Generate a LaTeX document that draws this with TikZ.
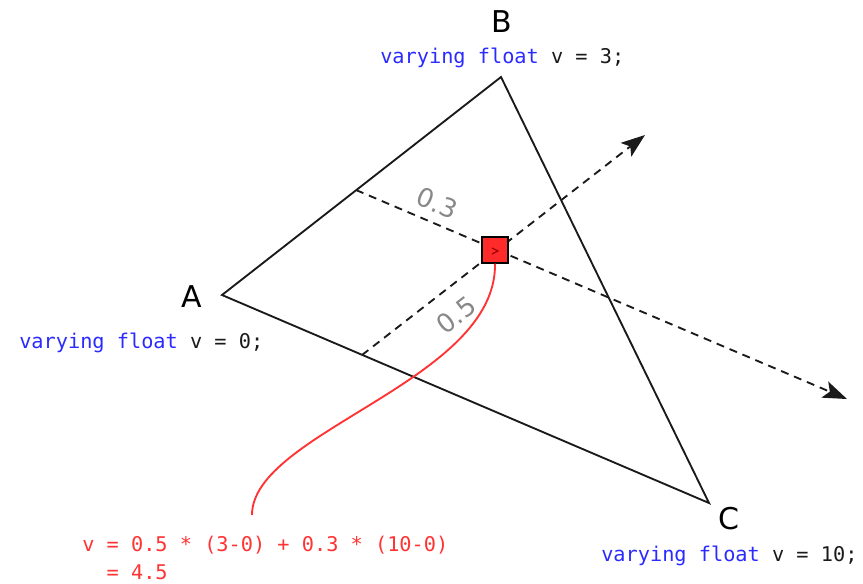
\documentclass[tikz,border=0pt]{standalone}
\usepackage{fontspec}
\setmainfont{DejaVu Sans}
\setmonofont{DejaVu Sans Mono}
\usetikzlibrary{arrows.meta}
\definecolor{edge}{HTML}{1A1A1A}
\definecolor{kw}{HTML}{2B2BFF}
\definecolor{redc}{HTML}{FF2A2A}
\definecolor{redt}{HTML}{FF3333}
\definecolor{lab}{HTML}{888888}
\definecolor{dred}{HTML}{A00000}
\begin{document}
\begin{tikzpicture}[x=0.75pt,y=-0.75pt,
  tri/.style={draw=edge,line width=1.4pt,line join=miter},
  guide/.style={draw=edge,line width=1.4pt,dash pattern=on 6pt off 4.5pt,-{Stealth[length=18pt,width=13pt,inset=4pt]}},
  vlabel/.style={font=\fontsize{22.5}{26}\selectfont,text=black,inner sep=0},
  code/.style={font=\ttfamily\fontsize{15.2}{21}\selectfont,inner sep=0,anchor=base west,text=edge},
  weight/.style={font=\fontsize{19.5}{22}\selectfont,text=lab,inner sep=0},
  frag/.style={draw=black,fill=redc,line width=1.4pt,minimum size=19pt,inner sep=0},
  link/.style={draw=redt,line width=1.4pt}]
\useasboundingbox (0,0) rectangle (863,583);
% vertices
\coordinate (A) at (222,295);
\coordinate (B) at (501,77);
\coordinate (C) at (709,503);
\draw[tri] (A) -- (B) -- (C) -- cycle;
% guide lines
\coordinate (e1) at (356,190);
\coordinate (t1) at (847,399);
\coordinate (e2) at (362,355);
\coordinate (t2) at (645,135);
\draw[guide] (e1) -- (t1);
\draw[guide] (e2) -- (t2);
% weights
\node[weight,rotate=-23] (w3) at (437,203) {0.3};
\node[weight,rotate=37.7] (w5) at (456,315) {0.5};
% formula and link
\coordinate (fend) at (252,515);
\node[frag] (P) at (495,250) {};
\draw[link] (P.south) .. controls (497,381) and (252,432) .. (fend);
\draw[dred,line width=0.9pt] (492,248) -- (498,251) -- (492,254);
\node[code,text=redt,align=left] (formula) at (82,579) {v = 0.5 * (3-0) + 0.3 * (10-0)\\\phantom{v\ }= 4.5};
% labels
\node[vlabel] (lA) at (192,297) {A};
\node[vlabel] (lB) at (502,22) {B};
\node[vlabel] (lC) at (729,519) {C};
\node[code] (codeA) at (19,348) {\textcolor{kw}{varying float} v = 0;};
\node[code] (codeB) at (380,63) {\textcolor{kw}{varying float} v = 3;};
\node[code] (codeC) at (601,561) {\textcolor{kw}{varying float} v = 10;};
\end{tikzpicture}
\end{document}
